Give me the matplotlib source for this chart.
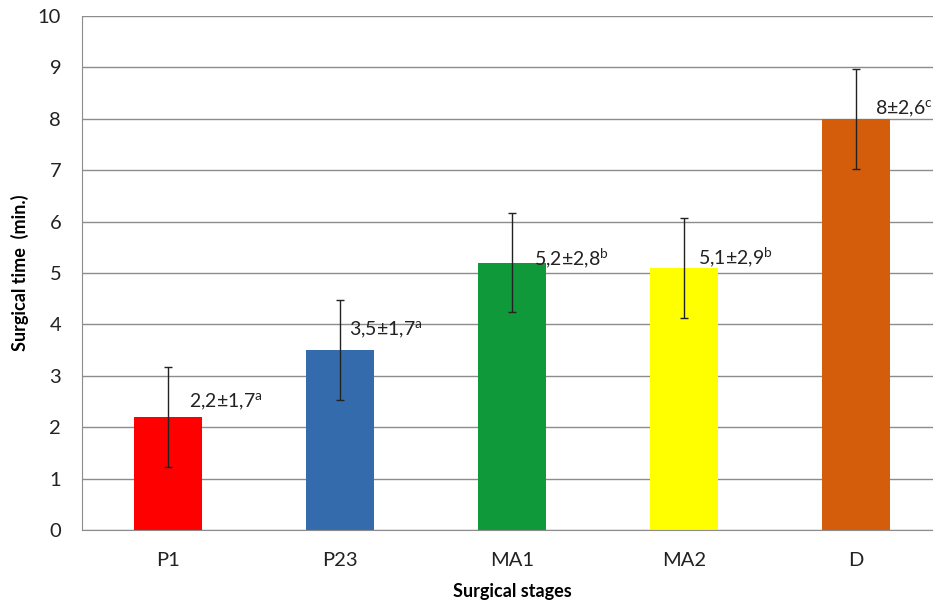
import matplotlib
matplotlib.use('Agg')
import matplotlib.pyplot as plt

plt.rcParams['font.family'] = ['Lato', 'DejaVu Sans']
plt.rcParams['mathtext.fontset'] = 'custom'
plt.rcParams['mathtext.rm'] = 'Lato'
plt.rcParams['mathtext.it'] = 'Lato'

# datos
etapas = ['P1', 'P23', 'MA1', 'MA2', 'D']
tiempos = [2.2, 3.5, 5.2, 5.1, 8.0]
errores = [0.97, 0.97, 0.96, 0.97, 0.97]
etiquetas = ['2,2±1,7', '3,5±1,7', '5,2±2,8', '5,1±2,9', '8±2,6']
letras = ['a', 'a', 'b', 'b', 'c']
colores = ['#FF0000', '#346BAC', '#0F993A', '#FFFF00', '#D35D0B']

# desplazamiento de las etiquetas (x en categorias, y en minutos)
dx_etiqueta = [0.12, 0.05, 0.13, 0.08, 0.11]
dy_etiqueta = [0.29, 0.39, 0.09, 0.21, 0.20]

fig = plt.figure(figsize=(9.33, 6.07), dpi=100)
ax = fig.add_axes([82 / 933, 77 / 607, (942 - 82) / 933, (530 - 16) / 607])

x = list(range(len(etapas)))
ax.bar(x, tiempos, width=0.4, color=colores, zorder=2)
ax.errorbar(x, tiempos, yerr=errores, fmt='none', ecolor='#222222',
            elinewidth=1, capsize=3, capthick=1, zorder=3)

for i in x:
    ax.text(i + dx_etiqueta[i], tiempos[i] + dy_etiqueta[i],
            etiquetas[i] + '$^{\\mathrm{' + letras[i] + '}}$',
            fontsize=14, va='center', ha='left', color='#222222', zorder=4)

ax.set_xlim(-0.5, len(etapas) - 0.5)
ax.set_ylim(0, 10)
ax.set_yticks(range(0, 11))
ax.set_xticks(x)
ax.set_xticklabels(etapas)
ax.yaxis.grid(True, color='#8C8C8C', linewidth=1, zorder=0)
ax.set_axisbelow(True)

for lado in ['top', 'right']:
    ax.spines[lado].set_visible(False)
ax.spines['left'].set_color('#8C8C8C')
ax.spines['bottom'].set_color('#8C8C8C')
ax.tick_params(axis='both', length=0, labelsize=14.5, colors='#222222')
ax.tick_params(axis='x', pad=16)
ax.tick_params(axis='y', pad=15)

ax.set_xlabel('Surgical stages', fontsize=13, fontweight='bold', labelpad=10)
ax.set_ylabel('Surgical time  (min.)', fontsize=13, fontweight='bold', labelpad=6)

fig.savefig('out.png', dpi=100)
